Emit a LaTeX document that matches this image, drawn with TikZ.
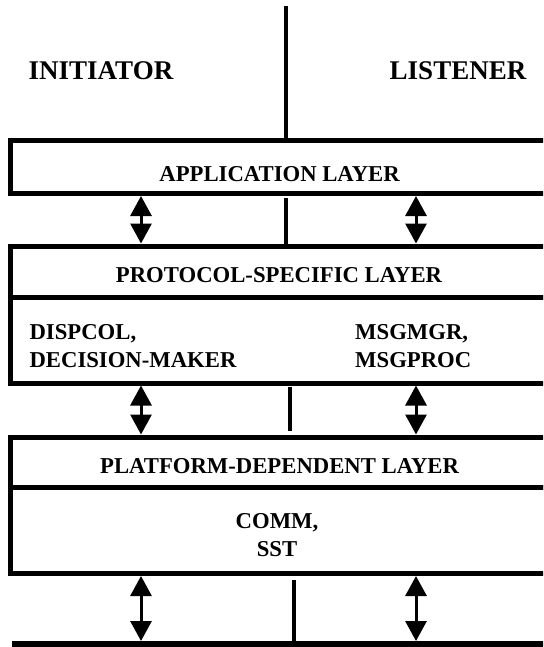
\documentclass[tikz,border=0pt]{standalone}
\usepackage{fontspec}
\setmainfont{Liberation Serif}
\usetikzlibrary{arrows.meta}
\usetikzlibrary{calc}

\tikzset{
  layerbox/.style={draw, line width=5pt, minimum width=549.5pt, inner sep=0pt},
  sidetitle/.style={font=\fontsize{27}{30}\selectfont\bfseries, anchor=base, inner sep=0pt},
  layertext/.style={font=\fontsize{22.7}{27.5}\selectfont\bfseries, anchor=base, inner sep=0pt},
  twoway/.style={{Triangle[length=20pt,width=21pt]}-{Triangle[length=20pt,width=21pt]}, line width=3pt},
  divider/.style={line width=4pt},
}

\begin{document}
\begin{tikzpicture}[x=1pt,y=-1pt]
            \useasboundingbox (0,0) rectangle (543,647);
            \clip (0,0) rectangle (543,647);
            \coordinate (ctop) at (286,6);
            \coordinate (cmid) at (290,0);
            \coordinate (cbot) at (294,0);
            \coordinate (lcol) at (141,0);
            \coordinate (rcol) at (416,0);
            \node[layerbox, minimum height=52.5pt] (app) at (285.25,167.25) {};
            \node[layerbox, minimum height=51pt] (protohead) at (285.25,271.5) {};
            \node[layerbox, minimum height=86pt] (protobody) at (285.25,340) {};
            \node[layerbox, minimum height=50.5pt] (plathead) at (285.25,462.25) {};
            \node[layerbox, minimum height=86pt] (platbody) at (285.25,530.5) {};
            \coordinate (busL) at (12,644);
            \coordinate (busR) at (560,644);
            \node[sidetitle] (init) at (101,80) {INITIATOR};
            \node[sidetitle] (listen) at (458,80) {LISTENER};
            \node[layertext] (apptxt) at (279.6,182) {APPLICATION LAYER};
            \node[layertext] (prototxt) at (279,282) {PROTOCOL-SPECIFIC LAYER};
            \node[layertext, anchor=base west, align=left] (initmods) at (29.4,367) {DISPCOL,\\DECISION-MAKER};
            \node[layertext, anchor=base west, align=left] (listmods) at (355,367) {MSGMGR,\\MSGPROC};
            \node[layertext] (plattxt) at (279.6,473) {PLATFORM-DEPENDENT LAYER};
            \node[layertext, align=center] (platmods) at (277,556) {COMM,\\SST};
            % split between the two sides
            \draw[divider] (ctop) -- (app.north -| ctop);
            \draw[divider, shorten <=2pt] (app.south -| ctop) -- (protohead.north -| ctop);
            \draw[divider, shorten <=1.5pt, shorten >=3.5pt] (protobody.south -| cmid) -- (plathead.north -| cmid);
            \draw[divider, shorten <=4pt] (platbody.south -| cbot) -- (busL -| cbot);
            \draw[line width=6pt] (busL) -- (busR);
            % traffic between layers
            \draw[twoway] (app.south -| lcol) -- (protohead.north -| lcol);
            \draw[twoway] (app.south -| rcol) -- (protohead.north -| rcol);
            \draw[twoway] (protobody.south -| lcol) -- (plathead.north -| lcol);
            \draw[twoway] (protobody.south -| rcol) -- (plathead.north -| rcol);
            \draw[twoway, shorten >=3pt] (platbody.south -| lcol) -- (busL -| lcol);
            \draw[twoway, shorten >=3pt] (platbody.south -| rcol) -- (busL -| rcol);
        \end{tikzpicture}
\end{document}
